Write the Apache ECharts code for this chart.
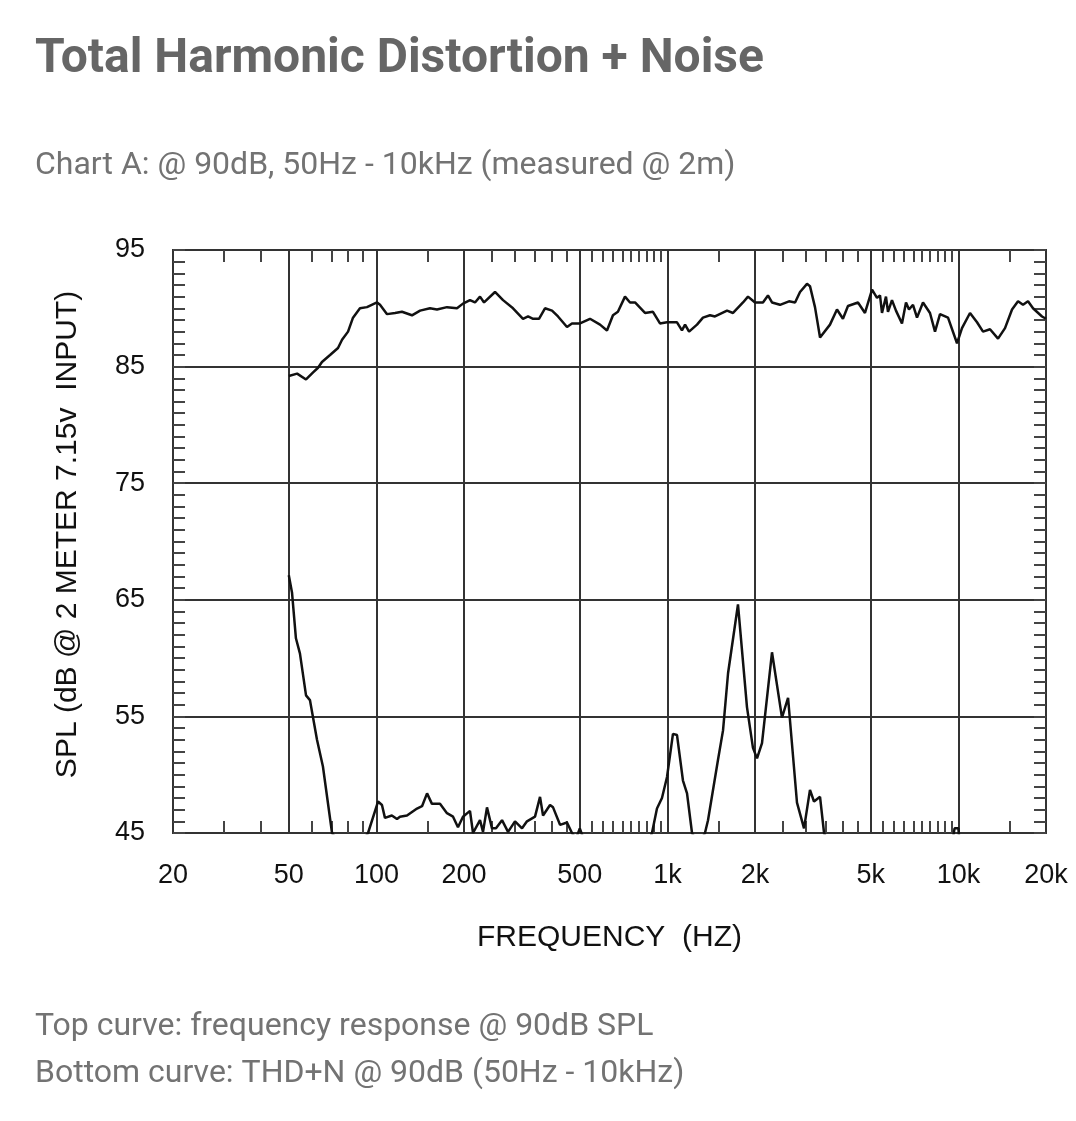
<!DOCTYPE html>
<html><head><meta charset="utf-8">
<script src="https://cdn.jsdelivr.net/npm/echarts@6/dist/echarts.min.js"></script>
<style>html,body{margin:0;padding:0;background:#fff}#c{width:1076px;height:1121px}</style>
</head><body><div id="c"></div>
<script>
// Frequency response (top curve)
const topFreq = [50, 53.4, 57.3, 60.6, 63, 65, 69.3, 73.8, 76.2, 79.9, 83.1, 87.8, 92.8, 100.5, 102.9, 108.8, 115.9, 122.4, 132.5, 141.3, 152.8, 161.5, 174.8, 189.2, 198.4, 209.7, 218.2, 227, 234.4, 255.6, 272.4, 294.8, 319, 332, 345.4, 362, 379.6, 401.4, 420.8, 451.8, 470, 500.8, 542, 586.8, 620, 650, 676, 715, 744, 774, 837.6, 892, 943, 997, 1079, 1122, 1150, 1187, 1264, 1325, 1401, 1457, 1603, 1681, 1819, 1892, 2000, 2130, 2216, 2288, 2438, 2617, 2746, 2856, 3018, 3090, 3215, 3346, 3620, 3826, 4011, 4174, 4518, 4775, 5049, 5252, 5378, 5463, 5638, 5728, 5912, 6102, 6399, 6606, 6765, 6982, 7207, 7557, 7987, 8310, 8645, 9211, 9890, 10288, 10962, 11588, 12150, 12843, 13684, 14462, 15286, 16028, 16674, 17346, 18046, 19378, 20000];
const topDb = [84.2, 84.4, 83.9, 84.5, 84.9, 85.4, 86.0, 86.6, 87.3, 88.0, 89.2, 90.0, 90.1, 90.5, 90.3, 89.5, 89.6, 89.7, 89.4, 89.8, 90.0, 89.9, 90.1, 90.0, 90.4, 90.7, 90.5, 91.0, 90.5, 91.4, 90.7, 90.0, 89.1, 89.3, 89.1, 89.1, 90.0, 89.8, 89.3, 88.4, 88.7, 88.7, 89.1, 88.6, 88.1, 89.4, 89.7, 91.0, 90.5, 90.5, 89.6, 89.7, 88.7, 88.8, 88.8, 88.1, 88.6, 88.0, 88.6, 89.2, 89.4, 89.3, 89.8, 89.6, 90.5, 91.0, 90.5, 90.5, 91.1, 90.5, 90.3, 90.6, 90.5, 91.4, 92.1, 91.9, 90.1, 87.5, 88.6, 89.9, 89.1, 90.2, 90.5, 89.6, 91.6, 90.9, 91.1, 89.6, 91.0, 89.7, 90.7, 89.8, 88.7, 90.5, 89.9, 90.3, 89.2, 90.5, 89.6, 88.0, 89.5, 89.2, 87.0, 88.3, 89.6, 88.8, 88.0, 88.2, 87.4, 88.3, 89.9, 90.6, 90.3, 90.6, 90.0, 89.3, 89.1];
// THD+N (bottom curve); values under 45 fall below the plot floor
const thdFreq = [50, 51.3, 52.9, 54.6, 57.3, 59.1, 62.5, 65.5, 70.4, 75, 88, 93.6, 101.3, 104.5, 107, 113, 117.7, 120.5, 127.4, 137.9, 143.5, 149.3, 155.2, 165.4, 174.8, 183.4, 190.7, 198.4, 209.7, 214.8, 227, 232.5, 239.9, 249.6, 257.6, 270.2, 283.4, 299.4, 316.6, 329.2, 350.8, 365, 373.8, 395, 404.6, 427.6, 451.8, 470, 485, 500, 515, 870, 885, 920.8, 958, 997, 1045, 1079, 1131, 1168, 1215, 1280, 1346, 1379, 1493, 1553, 1616, 1748, 1877, 1968, 2032, 2114, 2288, 2476, 2598, 2788, 2948, 3090, 3190, 3346, 3454, 3600, 9500, 9700, 10000, 10100];
const thdDb = [67.1, 65.6, 61.7, 60.4, 56.8, 56.4, 53.0, 50.7, 45.0, 44, 44, 45.0, 47.7, 47.4, 46.3, 46.5, 46.2, 46.4, 46.5, 47.1, 47.3, 48.4, 47.5, 47.5, 46.7, 46.4, 45.5, 46.4, 46.9, 45.0, 46.1, 45.1, 47.2, 45.4, 45.4, 46.1, 45.1, 46.0, 45.4, 46.0, 46.4, 48.1, 46.5, 47.4, 47.2, 45.7, 45.9, 45.0, 44.5, 45.4, 44.5, 44.5, 45.0, 47.1, 48.0, 49.8, 53.5, 53.4, 49.5, 48.4, 45.0, 44, 45.0, 46.1, 51.3, 53.8, 58.7, 64.6, 55.8, 52.3, 51.4, 52.7, 60.5, 54.9, 56.6, 47.6, 45.4, 48.7, 47.7, 48.1, 45.0, 44, 44, 45.4, 45.4, 44];

const xLabelValues = [20, 50, 100, 200, 500, 1000, 2000, 5000, 10000, 20000];
const xGridValues = [50, 100, 200, 500, 1000, 2000, 5000, 10000];
const xMinorTicks = [30, 40, 60, 70, 80, 90, 150, 250, 300, 350, 400, 450, 550, 600, 650, 700, 750, 800, 850, 900, 950, 1500, 2500, 3000, 3500, 4000, 4500, 5500, 6000, 6500, 7000, 7500, 8000, 8500, 9000, 9500, 15000];

const zip = (f, d) => f.map((v, i) => [v, d[i]]);
const chart = echarts.init(document.getElementById('c'), null, {renderer: 'canvas'});

const AXFONT = 'Liberation Sans, Arial, sans-serif';
const tickStyle = {color: '#444', width: 2};
const logX = (extra) => Object.assign({
  type: 'log', logBase: 10, min: 20, max: 20000, gridIndex: 0,
  axisLine: {show: false}, axisLabel: {show: false}, axisTick: {show: false},
  splitLine: {show: false}, minorTick: {show: false}, minorSplitLine: {show: false}
}, extra);
const valY = (extra) => Object.assign({
  type: 'value', min: 45, max: 95, interval: 10, gridIndex: 0,
  axisLine: {show: false}, axisLabel: {show: false},
  axisTick: {show: true, inside: true, length: 12, lineStyle: tickStyle},
  minorTick: {show: true, splitNumber: 10, length: 12, lineStyle: tickStyle},
  splitLine: {show: false}
}, extra);
const textBase = {fontFamily: 'Roboto', fontWeight: 'normal', fontSize: 32, color: '#737373'};

chart.setOption({
  animation: false,
  backgroundColor: '#fff',
  title: [
    {text: 'Total Harmonic Distortion + Noise', left: 35, top: 36, padding: 0,
     textStyle: {fontFamily: 'Roboto', fontWeight: 'bold', fontSize: 48, color: '#666'}},
    {text: 'Chart A: @ 90dB, 50Hz - 10kHz (measured @ 2m)', left: 35, top: 150, padding: 0, textStyle: textBase},
    {text: 'Top curve: frequency response @ 90dB SPL', left: 35, top: 1011, padding: 0, textStyle: textBase},
    {text: 'Bottom curve: THD+N @ 90dB (50Hz - 10kHz)', left: 35, top: 1058, padding: 0, textStyle: textBase}
  ],
  grid: {left: 173, top: 250, width: 873, height: 583, show: true, borderColor: '#333', borderWidth: 2, backgroundColor: 'transparent'},
  xAxis: [
    logX({
      position: 'bottom',
      name: 'FREQUENCY  (HZ)', nameLocation: 'middle', nameGap: 90,
      nameTextStyle: {fontFamily: AXFONT, fontSize: 30, color: '#111'},
      axisLabel: {show: true, customValues: xLabelValues, margin: 29, fontFamily: AXFONT, fontSize: 27, color: '#111',
        formatter: v => v >= 1000 ? (v / 1000) + 'k' : String(v)},
      axisTick: {show: false, customValues: xGridValues},
      splitLine: {show: true, lineStyle: {color: '#333', width: 2}}
    }),
    logX({position: 'top', axisTick: {show: true, inside: true, length: 12, customValues: xMinorTicks, lineStyle: tickStyle}}),
    logX({position: 'bottom', axisTick: {show: true, inside: true, length: 12, customValues: xMinorTicks, lineStyle: tickStyle}})
  ],
  yAxis: [
    valY({
      position: 'left',
      name: 'SPL (dB @ 2 METER 7.15v  INPUT)', nameLocation: 'middle', nameGap: 90, nameRotate: 90,
      nameTextStyle: {fontFamily: AXFONT, fontSize: 30, color: '#111', padding: [0, 0, 0, 14]},
      axisLabel: {show: true, margin: 28, fontFamily: AXFONT, fontSize: 27, color: '#111'},
      splitLine: {show: true, lineStyle: {color: '#333', width: 2}}
    }),
    valY({position: 'right'})
  ],
  series: [
    {name: 'Frequency response', type: 'line', xAxisIndex: 0, yAxisIndex: 0, data: zip(topFreq, topDb),
     showSymbol: false, symbol: 'none', clip: true, lineStyle: {color: '#111', width: 2.5}, z: 5},
    {name: 'THD+N', type: 'line', xAxisIndex: 0, yAxisIndex: 0, data: zip(thdFreq, thdDb),
     showSymbol: false, symbol: 'none', clip: true, lineStyle: {color: '#111', width: 2.5}, z: 5}
  ]
});
</script>
</body></html>
